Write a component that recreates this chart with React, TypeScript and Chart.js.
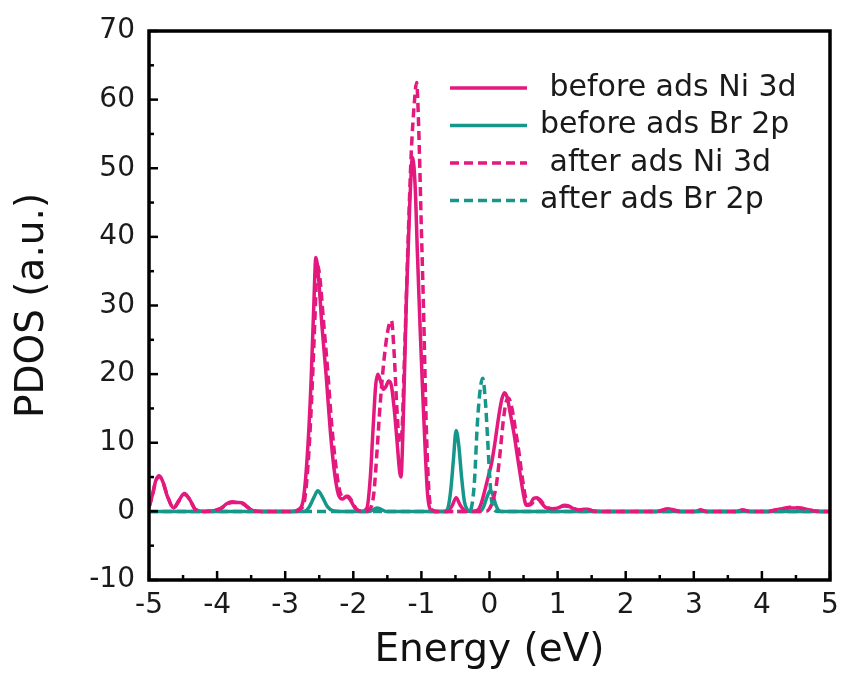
import React, { useEffect, useRef } from "react";
import { Chart, registerables } from "chart.js";

Chart.register(...registerables);

// ---------------- data ----------------
const seriesLabels = [" before ads Ni 3d", "before ads Br 2p", " after ads Ni 3d", "after ads Br 2p"];

// before ads Ni 3d (solid magenta)
const niBeforeE = [
  -5.0, -4.95, -4.9, -4.85, -4.8, -4.73, -4.64, -4.56, -4.48, -4.4, -4.32, -4.2, -4.05, -3.95, -3.86, -3.78,
  -3.7, -3.62, -3.55, -3.47, -3.35, -2.9, -2.8, -2.73, -2.67, -2.62, -2.58, -2.55, -2.51, -2.46, -2.4, -2.34,
  -2.28, -2.22, -2.16, -2.1, -2.04, -1.97, -1.88, -1.8, -1.75, -1.71, -1.67, -1.64, -1.6, -1.56, -1.52, -1.48,
  -1.44, -1.4, -1.36, -1.32, -1.3, -1.27, -1.22, -1.17, -1.13, -1.09, -1.06, -1.02, -0.98, -0.94, -0.91, -0.87,
  -0.8, -0.62, -0.55, -0.49, -0.43, -0.36, -0.25, -0.17, -0.12, -0.07, -0.02, 0.03, 0.08, 0.13, 0.18, 0.22,
  0.26, 0.31, 0.36, 0.41, 0.46, 0.5, 0.54, 0.59, 0.65, 0.7, 0.75, 0.82, 0.89, 0.96, 1.03, 1.1, 1.16, 1.23,
  1.31, 1.38, 1.44, 1.52, 1.65, 2.45, 2.55, 2.62, 2.7, 2.8, 3.02, 3.1, 3.18, 3.62, 3.72, 3.82, 4.1, 4.2, 4.3,
  4.42, 4.55, 4.65, 4.75, 4.85, 5.0,
];
const niBeforeV = [
  0.6, 2.4, 4.5, 5.2, 4.4, 2.2, 0.5, 1.6, 2.6, 1.7, 0.3, 0.0, 0.1, 0.4, 1.1, 1.4,
  1.3, 1.2, 0.6, 0.1, 0.0, 0.0, 0.3, 2.0, 9.0, 19.0, 30.0, 37.0, 34.0, 27.0, 20.0, 12.0,
  6.0, 2.5, 1.8, 2.2, 1.6, 0.4, 0.0, 0.5, 5.0, 12.0, 18.5, 20.0, 19.0, 17.8, 18.2, 19.0,
  18.3, 15.0, 10.5, 5.8, 5.0, 12.0, 31.0, 45.0, 51.6, 47.0, 38.0, 27.0, 17.0, 8.0, 2.6, 0.3,
  0.0, 0.0, 0.8, 2.0, 0.9, 0.1, 0.0, 0.2, 1.2, 3.0, 5.0, 7.0, 10.0, 13.5, 16.3, 17.3,
  16.6, 14.0, 11.3, 8.0, 4.8, 2.4, 0.9, 1.0, 1.9, 2.0, 1.4, 0.6, 0.4, 0.4, 0.6, 0.9, 0.8, 0.4,
  0.2, 0.3, 0.3, 0.05, 0.0, 0.0, 0.2, 0.4, 0.2, 0.0, 0.0, 0.2, 0.0, 0.0, 0.2, 0.0, 0.0, 0.2, 0.4,
  0.5, 0.5, 0.3, 0.1, 0.0, 0.0,
];

// before ads Br 2p (solid teal)
const brBeforeE = [
  -5.0, -2.72, -2.65, -2.58, -2.52, -2.46, -2.38, -2.3, -2.2, -1.76, -1.7, -1.65, -1.59, -1.52,
  -0.66, -0.61, -0.57, -0.53, -0.49, -0.45, -0.41, -0.37, -0.33, -0.28, -0.14, -0.09, -0.04, 0.01,
  0.05, 0.09, 0.13, 0.18, 5.0,
];
const brBeforeV = [
  0, 0, 0.6, 2.0, 3.0, 2.2, 0.7, 0.1, 0, 0, 0.3, 0.5, 0.3, 0,
  0, 0.5, 3.0, 7.5, 11.8, 9.5, 5.0, 1.5, 0.3, 0, 0, 0.6, 2.0, 3.0,
  2.4, 1.0, 0.2, 0, 0,
];

// after ads Ni 3d (dashed magenta)
const niAfterE = [
  -5.0, -4.95, -4.9, -4.85, -4.8, -4.73, -4.64, -4.56, -4.48, -4.4, -4.32, -4.2, -4.05, -3.95, -3.86, -3.78,
  -3.7, -3.62, -3.55, -3.47, -3.35, -2.88, -2.78, -2.71, -2.65, -2.6, -2.56, -2.53, -2.49, -2.44, -2.38, -2.32,
  -2.26, -2.2, -2.14, -2.08, -2.02, -1.95, -1.85, -1.76, -1.7, -1.65, -1.61, -1.55, -1.49, -1.44, -1.4, -1.36,
  -1.32, -1.29, -1.25, -1.2, -1.15, -1.1, -1.07, -1.04, -1.0, -0.97, -0.93, -0.89, -0.85, -0.78, -0.05, 0.0,
  0.05, 0.1, 0.15, 0.2, 0.24, 0.28, 0.33, 0.38, 0.43, 0.48, 0.53, 0.57, 0.62, 0.68, 0.73, 0.79, 0.86, 0.94,
  1.02, 1.1, 1.17, 1.25, 1.33, 1.4, 1.47, 1.55, 2.45, 2.55, 2.62, 2.7, 2.8, 3.02, 3.1, 3.18, 3.62, 3.72,
  3.82, 4.1, 4.2, 4.3, 4.42, 4.55, 4.65, 4.75, 4.85, 5.0,
];
const niAfterV = [
  0.6, 2.3, 4.4, 5.1, 4.4, 2.3, 0.5, 1.5, 2.5, 1.7, 0.3, 0.0, 0.1, 0.4, 1.0, 1.3,
  1.3, 1.1, 0.6, 0.1, 0.0, 0.0, 0.3, 2.0, 9.0, 19.0, 29.0, 36.0, 34.0, 28.0, 21.0, 13.0,
  7.0, 3.0, 2.0, 2.2, 1.5, 0.3, 0.0, 0.3, 2.5, 9.0, 15.0, 22.0, 26.5, 27.8, 23.0, 15.0,
  10.0, 11.0, 22.0, 38.0, 52.0, 60.0, 62.5, 56.0, 41.0, 30.0, 13.0, 3.0, 0.3, 0.0, 0.0, 0.4,
  1.6, 3.8, 8.0, 13.0, 15.8, 16.5, 15.0, 12.0, 8.8, 5.0, 2.0, 0.9, 1.1, 1.8, 1.8, 1.1, 0.5, 0.4,
  0.6, 0.8, 0.7, 0.4, 0.2, 0.3, 0.2, 0.0, 0.0, 0.2, 0.4, 0.2, 0.0, 0.0, 0.2, 0.0, 0.0, 0.2,
  0.0, 0.0, 0.2, 0.4, 0.6, 0.5, 0.3, 0.1, 0.0, 0.0,
];

// after ads Br 2p (dashed teal)
const brAfterE = [-5.0, -0.3, -0.26, -0.22, -0.18, -0.14, -0.1, -0.06, -0.03, 0.0, 0.03, 0.07, 0.12, 5.0];
const brAfterV = [0, 0, 0.8, 4.5, 12.5, 17.5, 19.4, 16.0, 11.0, 5.5, 1.6, 0.2, 0, 0];

const xTickMin = -5;
const xTickMax = 5;
const yTickMin = -10;
const yTickMax = 70;

// ---------------- style ----------------
const MAGENTA = "#E3197E";
const TEAL = "#16978B";
const FONT = "'DejaVu Sans', 'Open Sans', sans-serif";

function toPoints(xs: number[], ys: number[]) {
  return xs.map((x, i) => ({ x, y: ys[i] }));
}

const frameAndTicks = {
  id: "frameAndTicks",
  afterDatasetsDraw(chart: any) {
    const { ctx, chartArea: a, scales } = chart;
    const xs = scales.x;
    const ys = scales.y;
    const seg = (x0: number, y0: number, x1: number, y1: number) => {
      ctx.beginPath();
      ctx.moveTo(x0, y0);
      ctx.lineTo(x1, y1);
      ctx.stroke();
    };
    ctx.save();
    ctx.strokeStyle = "#000";
    ctx.lineWidth = 2.5;
    ctx.lineCap = "butt";
    const xv = xs.ticks.map((t: any) => t.value);
    for (let i = 0; i < xv.length; i++) {
      const p = xs.getPixelForValue(xv[i]);
      seg(p, a.bottom, p, a.bottom - 9);
      if (i < xv.length - 1) {
        const m = xs.getPixelForValue((xv[i] + xv[i + 1]) / 2);
        seg(m, a.bottom, m, a.bottom - 5);
      }
    }
    const yv = ys.ticks.map((t: any) => t.value);
    for (let i = 0; i < yv.length; i++) {
      const p = ys.getPixelForValue(yv[i]);
      seg(a.left, p, a.left + 9, p);
      if (i < yv.length - 1) {
        const m = ys.getPixelForValue((yv[i] + yv[i + 1]) / 2);
        seg(a.left, m, a.left + 5, m);
      }
    }
    ctx.lineWidth = 3.5;
    ctx.strokeRect(a.left, a.top, a.right - a.left, a.bottom - a.top);
    ctx.restore();
  },
};

const innerLegend = {
  id: "innerLegend",
  afterDraw(chart: any) {
    const { ctx, chartArea: a } = chart;
    const x0 = a.left + 301;
    const x1 = a.left + 378;
    const tx = a.left + 391;
    const y0 = a.top + 57;
    const dy = 37.5;
    ctx.save();
    chart.data.datasets.forEach((ds: any, i: number) => {
      const y = y0 + i * dy;
      ctx.strokeStyle = ds.borderColor;
      ctx.lineWidth = ds.borderWidth;
      ctx.setLineDash(ds.borderDash || []);
      ctx.beginPath();
      ctx.moveTo(x0, y);
      ctx.lineTo(x1, y);
      ctx.stroke();
      ctx.setLineDash([]);
      ctx.fillStyle = "#1a1a1a";
      ctx.font = `30px ${FONT}`;
      ctx.textAlign = "left";
      ctx.textBaseline = "middle";
      ctx.fillText(ds.label, tx, y);
    });
    ctx.restore();
  },
};

export default function App() {
  const ref = useRef<HTMLCanvasElement | null>(null);

  useEffect(() => {
    if (!ref.current) return;
    const common = {
      borderWidth: 3.5,
      pointRadius: 0,
      pointHoverRadius: 0,
      fill: false,
      cubicInterpolationMode: "monotone" as const,
    };
    const chart = new Chart(ref.current, {
      type: "line",
      data: {
        datasets: [
          { ...common, label: seriesLabels[0], data: toPoints(niBeforeE, niBeforeV), borderColor: MAGENTA, order: 3 },
          { ...common, label: seriesLabels[1], data: toPoints(brBeforeE, brBeforeV), borderColor: TEAL, order: 2 },
          { ...common, label: seriesLabels[2], data: toPoints(niAfterE, niAfterV), borderColor: MAGENTA, borderDash: [9, 5], order: 0 },
          { ...common, label: seriesLabels[3], data: toPoints(brAfterE, brAfterV), borderColor: TEAL, borderDash: [9, 5], order: 1 },
        ],
      },
      options: {
        responsive: false,
        animation: false,
        devicePixelRatio: 1,
        layout: { padding: { top: 31, right: 18, left: 0, bottom: 0 } },
        plugins: { legend: { display: false }, tooltip: { enabled: false } },
        scales: {
          x: {
            type: "linear",
            min: xTickMin,
            max: xTickMax,
            afterFit: (s: any) => {
              s.height = 104;
            },
            grid: { display: false, drawTicks: false },
            border: { display: false },
            ticks: { stepSize: 1, padding: 9, color: "#1a1a1a", font: { family: FONT, size: 28 } },
            title: {
              display: true,
              text: "Energy (eV)",
              color: "#111",
              font: { family: FONT, size: 39 },
              padding: { top: 0, bottom: 10 },
            },
          },
          y: {
            type: "linear",
            min: yTickMin,
            max: yTickMax,
            afterFit: (s: any) => {
              s.width = 149;
            },
            grid: { display: false, drawTicks: false },
            border: { display: false },
            ticks: { stepSize: 10, padding: 14, color: "#1a1a1a", font: { family: FONT, size: 28 } },
            title: {
              display: true,
              text: "PDOS (a.u.)",
              color: "#111",
              font: { family: FONT, size: 39 },
              padding: { top: 9, bottom: 0 },
            },
          },
        },
      },
      plugins: [frameAndTicks, innerLegend],
    });
    return () => chart.destroy();
  }, []);

  return (
    <div style={{ position: "fixed", left: 0, top: 0, width: 848, height: 684, background: "#fff" }}>
      <canvas ref={ref} width={848} height={684} style={{ display: "block" }} />
    </div>
  );
}
